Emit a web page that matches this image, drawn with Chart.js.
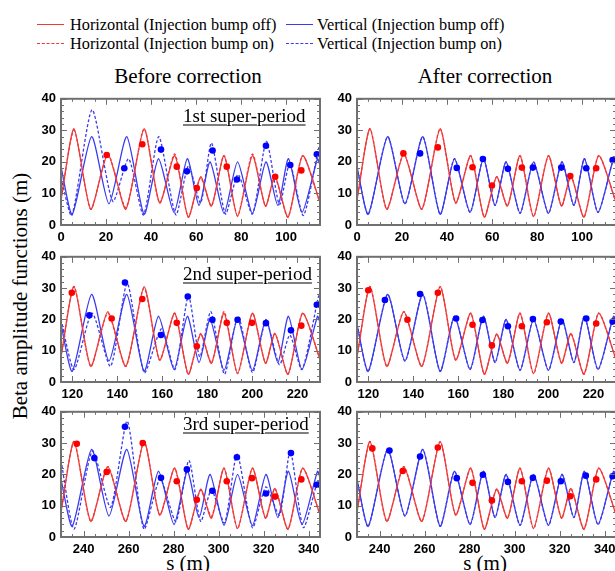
<!DOCTYPE html>
<html>
<head>
<meta charset="utf-8">
<script src="https://cdn.jsdelivr.net/npm/chart.js@4.4.0/dist/chart.umd.min.js"></script>
<style>
  html, body { margin: 0; padding: 0; background: #fff; }
  body { width: 615px; height: 571px; position: relative; overflow: hidden; font-family: "Liberation Serif", "Times New Roman", serif; color: #000; }
  canvas { position: absolute; }
  .t { position: absolute; white-space: nowrap; line-height: 1; transform: translate(-50%, -50%); }
  .lg { position: absolute; white-space: nowrap; line-height: 1; font-size: 16.3px; transform: translateY(-50%); }
  .ln { position: absolute; width: 27px; height: 0; }
  .sp { position: absolute; white-space: nowrap; line-height: 1; font-size: 19px; text-decoration: underline; text-underline-offset: 3px; text-decoration-thickness: 1px; transform: translateY(-50%); }
</style>
</head>
<body>

<div class="ln" style="left:37px;top:24px;border-top:1.5px solid #f03a3a"></div>
<div class="lg" style="left:70px;top:25px">Horizontal (Injection bump off)</div>
<div class="ln" style="left:286px;top:24px;border-top:1.5px solid #3a3af0"></div>
<div class="lg" style="left:317px;top:25px">Vertical (Injection bump off)</div>
<div class="ln" style="left:37px;top:43px;border-top:1.5px dashed #f03a3a"></div>
<div class="lg" style="left:70px;top:44px">Horizontal (Injection bump on)</div>
<div class="ln" style="left:286px;top:43px;border-top:1.5px dashed #3a3af0"></div>
<div class="lg" style="left:317px;top:44px">Vertical (Injection bump on)</div>

<div class="t" style="left:188px;top:76px;font-size:21px">Before correction</div>
<div class="t" style="left:485px;top:76px;font-size:21px">After correction</div>
<div class="t" style="left:20px;top:296px;font-size:21px;transform:translate(-50%,-50%) rotate(-90deg)">Beta amplitude functions (m)</div>
<div class="t" style="left:188px;top:563px;font-size:21px">s (m)</div>
<div class="t" style="left:485px;top:563px;font-size:21px">s (m)</div>

<canvas id="b1"></canvas><canvas id="a1"></canvas>
<canvas id="b2"></canvas><canvas id="a2"></canvas>
<canvas id="b3"></canvas><canvas id="a3"></canvas>

<div class="sp" style="left:183px;top:115px">1st super-period</div>
<div class="sp" style="left:183px;top:273px">2nd super-period</div>
<div class="sp" style="left:183px;top:423px">3rd super-period</div>

<script>
// lattice functions of one super-period (local s, m), bump off
const sH = [0, 5.8, 13.2, 20.8, 28.8, 36.9, 43.8, 50.5, 56.5, 62, 66.8, 72.4, 78.4, 85, 90.8, 95, 100.8, 107.3, 115];
const betaH = [8, 30.5, 5, 22.5, 5, 30.5, 7, 22, 2.5, 15.3, 6, 22, 2.7, 22, 6, 15.5, 2.5, 22, 7.2];
const sV = [0, 5, 13.6, 21.3, 29.2, 36.9, 43.3, 50.2, 56.1, 61.3, 66.2, 72.4, 78.4, 85, 91, 96.3, 101, 107, 113.9, 115];
const betaV = [18.4, 3.4, 28, 6.7, 28, 3.4, 21, 4, 21, 6.2, 20, 3.7, 20, 3.7, 20, 6.2, 21, 4, 21, 19];

// bump on, before correction: horizontal (same s as sH)
const onH1 = [8, 30, 5, 22.5, 5.5, 30.5, 7, 22.5, 2.5, 15, 6, 22, 3, 22.5, 6, 15, 2.5, 22, 7];
const onH2 = [8, 30.5, 5, 22, 5, 30, 7, 22, 2.5, 15.5, 6, 22.5, 2.7, 22, 6, 15.5, 2.5, 22, 7.2];
const onH3 = [8, 30.5, 5, 22.5, 5, 30.5, 7, 22, 2.5, 15, 6.5, 22, 2.7, 22, 6, 15.5, 2.5, 22, 7];

// bump on, before correction: vertical
const sV1 = [0, 4.8, 13.8, 23, 30, 36.6, 43.4, 51, 56.6, 62, 66.8, 73, 78.6, 85, 91.2, 97, 101.6, 107.6, 114.5, 115];
const onV1 = [15, 3, 36.5, 7.5, 21, 3.2, 28, 3.2, 18.8, 7, 26, 3.5, 16, 3.5, 26.5, 6.5, 19.5, 3, 24.5, 23];
const sV2 = [115, 120.8, 128.8, 137, 144.4, 152, 159.6, 165.6, 171.6, 176.6, 181.5, 187.6, 193.6, 200, 206, 212, 216.6, 222, 229.4, 230];
const onV2 = [20, 4, 22, 5, 31.5, 3, 17, 4, 27.5, 8, 22.5, 2.5, 21, 3, 19.5, 5.5, 15, 4, 27.5, 26];
const sV3 = [230, 235.8, 244, 252, 259.4, 266.8, 274, 281, 286.8, 292, 296.8, 302.6, 308.2, 315, 321, 327, 331.8, 337.6, 344, 345];
const onV3 = [24.5, 2.5, 27.5, 9.5, 37, 2.5, 18.5, 5, 24.5, 5, 15, 4.5, 26.5, 3, 16, 7, 27.5, 3, 18, 17];

// measured points [s, beta]
const redB1 = [[20.3, 22.2], [36.1, 25.6], [51.4, 18.5], [60.3, 11.7], [73.6, 18.5], [95.1, 15.3], [106.7, 17.3]];
const blueB1 = [[28.1, 18], [44.4, 23.9], [55.9, 17], [67.3, 23.6], [78.1, 14.4], [91, 25.1], [101.8, 19], [113.6, 22.4]];
const redA1 = [[20.6, 22.7], [35.9, 24.6], [51.3, 18.3], [59.9, 12.5], [73.2, 18.2], [94.7, 15.5], [106.2, 18]];
const blueA1 = [[28, 22.7], [44.3, 18.1], [55.9, 20.9], [67, 17.8], [78.1, 18.2], [90.7, 18.2], [101.8, 18], [113.5, 20.6]];
const redB2 = [[119.8, 28.5], [137.5, 20.3], [151.1, 26.5], [166.4, 18.9], [175.3, 11.4], [188.6, 18.9], [199.8, 18.9], [221.7, 18]];
const blueB2 = [[127.6, 21.3], [143.4, 31.8], [159.4, 15], [171.3, 27.3], [182.2, 19.9], [193.4, 19.9], [206, 18.8], [217.1, 16.5], [228.6, 24.7]];
const redA2 = [[120, 29.3], [137.4, 19.9], [150.9, 28.5], [166.3, 18.3], [174.9, 11.7], [188.2, 17.8], [199.3, 19.1], [221.2, 18.7]];
const blueA2 = [[127.4, 26.2], [143, 28.1], [159, 20.3], [170.7, 19.8], [182, 17.8], [193.1, 20.1], [205.5, 19.3], [216.8, 20.3], [228.5, 19.3]];
const redB3 = [[237, 29.8], [250.3, 20.8], [266.3, 30], [281.4, 17.8], [290.3, 11.9], [303.6, 17.8], [314.8, 18.8], [325.1, 12.9], [336.7, 18.4]];
const blueB3 = [[244.8, 25.2], [258.4, 35.2], [274.4, 18.9], [285.9, 21.6], [297.2, 14.8], [308.1, 25.5], [321, 13.9], [332.1, 26.8], [343.6, 16.7]];
const redA3 = [[236.8, 28.3], [250.3, 21.1], [265.9, 28.6], [281.3, 17.3], [289.9, 11.7], [303.2, 17.8], [314.3, 18], [324.7, 13], [336.2, 18.4]];
const blueA3 = [[244.4, 27.6], [258, 25.7], [274.3, 18.8], [285.9, 19.9], [297, 17.6], [308.1, 18.9], [320.5, 17.8], [331.6, 19.6], [343.5, 19.4]];

const xTicks1 = [0, 20, 40, 60, 80, 100];
const xTicks2 = [120, 140, 160, 180, 200, 220];
const xTicks3 = [240, 260, 280, 300, 320, 340];
const yTicks = [0, 10, 20, 30, 40];

const RED = '#f03a3a', BLUE = '#3a3af0';

function pts(xs, ys, off) {
  return xs.map((s, i) => ({ x: s + off, y: ys[i] }));
}
function pairs(list) {
  return list.map(p => ({ x: p[0], y: p[1] }));
}

// gray frame with inward ticks on all four sides
const frameTicks = {
  id: 'frameTicks',
  afterDatasetsDraw(chart) {
    const { ctx, chartArea: a, scales: { x, y } } = chart;
    ctx.save();
    ctx.strokeStyle = '#707070';
    ctx.lineWidth = 1;
    ctx.beginPath();
    for (let v = Math.ceil(x.min / 5) * 5; v <= x.max; v += 5) {
      const px = Math.round(x.getPixelForValue(v)) + 0.5;
      const len = v % 20 === 0 ? 6 : 3;
      ctx.moveTo(px, a.bottom); ctx.lineTo(px, a.bottom - len);
      ctx.moveTo(px, a.top); ctx.lineTo(px, a.top + len);
    }
    for (let v = 0; v <= 40; v += 2) {
      const py = Math.round(y.getPixelForValue(v)) + 0.5;
      const len = v % 10 === 0 ? 6 : 3;
      ctx.moveTo(a.left, py); ctx.lineTo(a.left + len, py);
      ctx.moveTo(a.right, py); ctx.lineTo(a.right - len, py);
    }
    ctx.stroke();
    ctx.lineWidth = 2;
    ctx.strokeRect(a.left, a.top, a.right - a.left, a.bottom - a.top);
    ctx.restore();
  }
};

function lineSet(data, color, dashed) {
  return {
    type: 'line', data, borderColor: color, borderWidth: 1.3,
    borderDash: dashed ? [3, 2] : [], pointRadius: 0, tension: 0.22, fill: false
  };
}
function dotSet(data, color) {
  return {
    type: 'scatter', data, backgroundColor: color, borderColor: color,
    pointRadius: 3.3, borderWidth: 0, showLine: false
  };
}

const tickFont = { family: 'Liberation Sans', weight: 'bold', size: 13 };

function makePanel(id, left, top, h, xmin, xmax, ticks, datasets) {
  const cv = document.getElementById(id);
  const W = 259 + 45 + 6, H = h + 8 + 26;
  cv.style.left = (left - 45) + 'px';
  cv.style.top = (top - 8) + 'px';
  cv.width = W; cv.height = H;
  cv.style.width = W + 'px'; cv.style.height = H + 'px';
  new Chart(cv, {
    type: 'line',
    data: { datasets },
    options: {
      responsive: false,
      animation: false,
      layout: { padding: { top: 8, right: 6, left: 0, bottom: 0 } },
      plugins: { legend: { display: false }, tooltip: { enabled: false } },
      scales: {
        x: {
          type: 'linear', min: xmin, max: xmax,
          grid: { display: false, drawTicks: false }, border: { display: false },
          afterBuildTicks: s => { s.ticks = ticks.map(v => ({ value: v })); },
          afterFit: s => { s.height = 26; },
          ticks: { padding: 5, maxRotation: 0, color: '#000', font: tickFont }
        },
        y: {
          min: 0, max: 40,
          grid: { display: false, drawTicks: false }, border: { display: false },
          afterBuildTicks: s => { s.ticks = yTicks.map(v => ({ value: v })); },
          afterFit: s => { s.width = 45; },
          ticks: { padding: 5, color: '#000', font: tickFont }
        }
      }
    },
    plugins: [frameTicks]
  });
}

const rows = [
  { top: 94, h: 131, off: 0, ticks: xTicks1, onH: onH1, sVon: sV1, onV: onV1, rb: redB1, bb: blueB1, ra: redA1, ba: blueA1 },
  { top: 252, h: 130, off: 115, ticks: xTicks2, onH: onH2, sVon: sV2, onV: onV2, rb: redB2, bb: blueB2, ra: redA2, ba: blueA2 },
  { top: 407, h: 130, off: 230, ticks: xTicks3, onH: onH3, sVon: sV3, onV: onV3, rb: redB3, bb: blueB3, ra: redA3, ba: blueA3 }
];

rows.forEach((r, i) => {
  const hOff = pts(sH, betaH, r.off);
  const vOff = pts(sV, betaV, r.off);
  // before correction
  makePanel('b' + (i + 1), 61, r.top, r.h, r.off, r.off + 115, r.ticks, [
    dotSet(pairs(r.rb), '#ff0000'),
    dotSet(pairs(r.bb), '#0000ff'),
    lineSet(pts(sH, r.onH, r.off), RED, true),
    lineSet(pts(r.sVon, r.onV, 0), BLUE, true),
    lineSet(hOff, RED, false),
    lineSet(vOff, BLUE, false)
  ]);
  // after correction: bump-on optics restored to the bump-off ones
  makePanel('a' + (i + 1), 357, r.top, r.h, r.off, r.off + 115, r.ticks, [
    dotSet(pairs(r.ra), '#ff0000'),
    dotSet(pairs(r.ba), '#0000ff'),
    lineSet(pts(sH, betaH, r.off), RED, true),
    lineSet(pts(sV, betaV, r.off), BLUE, true),
    lineSet(hOff, RED, false),
    lineSet(vOff, BLUE, false)
  ]);
});
</script>
</body>
</html>
